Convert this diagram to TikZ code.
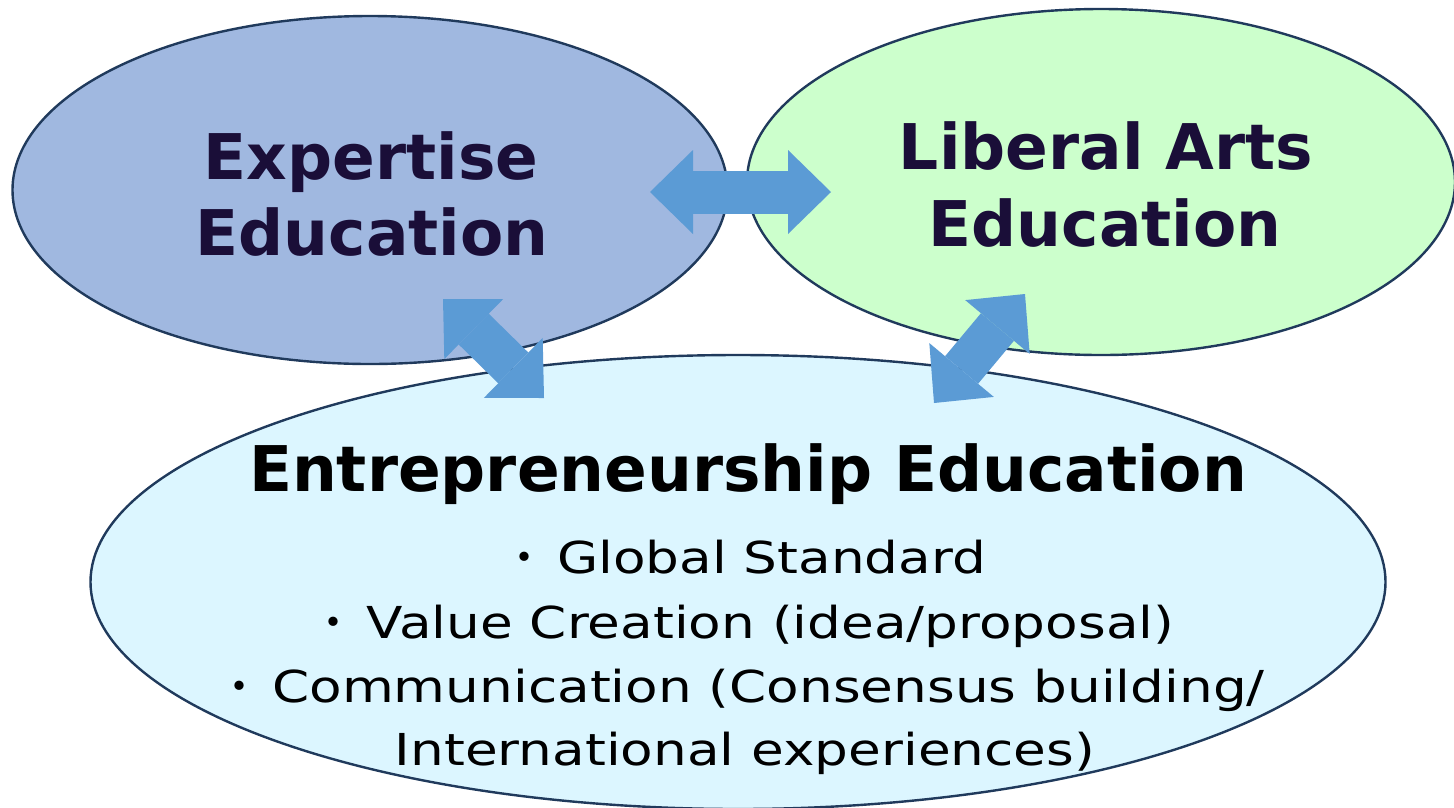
\documentclass[tikz,border=0pt]{standalone}
\usepackage{fontspec}
\setmainfont{DejaVu Sans}
\newfontfamily\listfont[FakeStretch=1.21]{DejaVu Sans}
\newfontfamily\dotfont{Noto Sans CJK JP}
\usetikzlibrary{shapes.geometric,arrows.meta}
\definecolor{ovalline}{RGB}{32,58,92}
\definecolor{expfill}{RGB}{160,184,224}
\definecolor{libfill}{RGB}{204,255,204}
\definecolor{entfill}{RGB}{220,246,255}
\definecolor{headtext}{RGB}{26,14,56}
\definecolor{linkblue}{RGB}{91,155,213}
\newcommand{\listdot}{{\dotfont ・}\hspace{11pt}}

\begin{document}
\begin{tikzpicture}[%
x=1pt,y=-1pt,
oval/.style={ellipse,draw=ovalline,line width=2.4pt,inner sep=0pt},
headline/.style={anchor=base,inner sep=0pt,text=headtext,font=\bfseries\fontsize{63}{76}\selectfont},
listline/.style={anchor=base,inner sep=0pt,text=black,font=\listfont\fontsize{44}{64}\selectfont},
link/.style={draw=linkblue,line width=43pt,{Triangle[width=84pt,length=43pt,line width=0pt]}-{Triangle[width=84pt,length=43pt,line width=0pt]}},
]
\useasboundingbox (0,0) rectangle (1454,807);
%% oval;
\node [oval,fill=expfill,minimum width=715pt,minimum height=348pt] (expertise) at (370,190) {};
%% oval;
\node [oval,fill=libfill,minimum width=708pt,minimum height=346pt] (liberal) at (1101,182) {};
%% oval;
\node [oval,fill=entfill,minimum width=1295pt,minimum height=454pt] (entre) at (738,582) {};
%% label;
\node [headline] (exp1) at (371,179) {Expertise};
\node [headline] (exp2) at (372,255) {Education};
%% label;
\node [headline] (lib1) at (1106,169) {Liberal Arts};
\node [headline] (lib2) at (1105,246) {Education};
%% label;
\node [headline,text=black] (ent1) at (748,491) {Entrepreneurship Education};
\node [listline] (ent2) at (744,573) {\listdot Global Standard};
\node [listline] (ent3) at (743,638) {\listdot Value Creation (idea/proposal)};
\node [listline] (ent4) at (741,702) {\listdot Communication (Consensus building/};
\node [listline] (ent5) at (745,765) {International experiences)};
%% link ends;
\coordinate (expR) at (650,192);
\coordinate (libL) at (831,192);
\coordinate (expB) at (443,299);
\coordinate (entL) at (544,398);
\coordinate (libB) at (1025,294);
\coordinate (entR) at (934,403);
%% link;
\draw [link] (expR) -- (libL);
%% link;
\draw [link] (expB) -- (entL);
%% link;
\draw [link] (entR) -- (libB);
\end{tikzpicture}
\end{document}
